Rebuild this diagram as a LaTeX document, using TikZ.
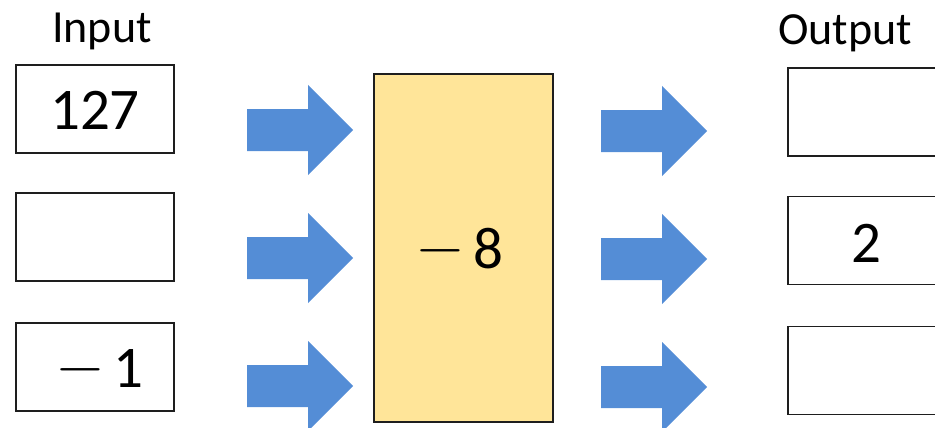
\documentclass[tikz,border=0pt]{standalone}
\usepackage{fontspec}
\setmainfont{Carlito}
\newfontfamily\lmsign{lmroman10-regular.otf}
\definecolor{arrowblue}{RGB}{84,141,214}
\definecolor{boxgold}{RGB}{255,229,153}
\definecolor{edge}{RGB}{30,30,30}
% a thin, wide minus sign sitting at mid-digit height
\newcommand{\negsign}{\raisebox{0.05em}{\lmsign −}}
\tikzset{
  valbox/.style={draw=edge, line width=1.6pt, fill=white, inner sep=0pt,
                 minimum width=158pt, minimum height=88pt},
  opbox/.style={draw=edge, line width=1.6pt, fill=boxgold, inner sep=0pt,
                minimum width=179pt, minimum height=348pt},
  numtxt/.style={inner sep=0pt, anchor=base, font=\fontsize{59}{66}\selectfont},
  headtxt/.style={inner sep=0pt, anchor=base, font=\fontsize{46}{52}\selectfont},
  blockarrow/.pic={
    \fill[arrowblue] (0,-21) -- (61,-21) -- (61,-45) -- (106,0)
                     -- (61,45) -- (61,21) -- (0,21) -- cycle;
  }
}
\begin{document}
\begin{tikzpicture}[x=1pt, y=-1pt]
  \useasboundingbox (0,0) rectangle (935,428);
  \clip (0,0) rectangle (935,428);

  % column headings
  \node[headtxt] (inhead)  at (102,43) {Input};
  \node[headtxt] (outhead) at (845,45) {Output};

  % input boxes
  \node[valbox] (in1) at (95,109) {};
  \node[valbox] (in2) at (95,237) {};
  \node[valbox] (in3) at (95,367) {};
  \node[numtxt] (v127) at (95,129) {127};
  \node[numtxt] (vm1)  at (100.5,387) {\negsign\kern0.18em 1};

  % the operation
  \node[opbox] (op) at (463.5,248) {};
  \node[numtxt] (vm8) at (460.5,268) {\negsign\kern0.18em 8};

  % output boxes
  \node[valbox] (out1) at (867,112) {};
  \node[valbox] (out2) at (867,240.5) {};
  \node[valbox] (out3) at (867,370.5) {};
  \node[numtxt] (v2) at (866.5,262) {2};

  % block arrows into and out of the operation
  \pic (ia1) at (247,130) {blockarrow};
  \pic (ia2) at (247,258) {blockarrow};
  \pic (ia3) at (247,386) {blockarrow};
  \pic (oa1) at (601,131) {blockarrow};
  \pic (oa2) at (601,259) {blockarrow};
  \pic (oa3) at (601,387) {blockarrow};
\end{tikzpicture}
\end{document}
